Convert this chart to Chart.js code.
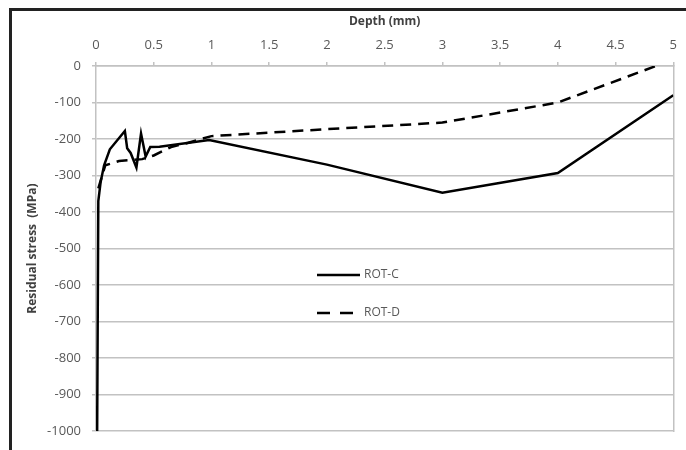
<!DOCTYPE html>
<html>
<head>
<meta charset="utf-8">
<script src="https://cdn.jsdelivr.net/npm/chart.js@4"></script>
<style>
  html, body { margin: 0; padding: 0; background: #fff; }
  #wrap { position: relative; width: 686px; height: 450px; overflow: hidden; }
  #frame { position: absolute; left: 9px; top: 8px; width: 700px; height: 460px;
           border-top: 3px solid #222; border-left: 3px solid #222; }
  canvas { position: absolute; left: 0; top: 0; }
</style>
</head>
<body>
<div id="wrap">
  <div id="frame"></div>
  <canvas id="myChart" width="686" height="450"></canvas>
</div>
<script>
// data
const depthC  = [0.01, 0.02, 0.04, 0.07, 0.12, 0.25, 0.27, 0.30, 0.35, 0.39, 0.43, 0.47, 0.55, 0.98, 2.0, 3.0, 4.0, 5.0];
const stressC = [-1000, -370, -318, -272, -228, -178, -225, -238, -278, -185, -248, -222, -221, -203, -270, -347, -293, -80];

const depthD  = [0.02, 0.08, 0.2, 0.4, 0.5, 0.65, 0.8, 1.0, 2.0, 3.0, 4.0, 4.85];
const stressD = [-335, -272, -260, -255, -245, -222, -210, -192, -173, -155, -100, 0];

const xTicks = [0, 0.5, 1, 1.5, 2, 2.5, 3, 3.5, 4, 4.5, 5];
const yTicks = [0, -100, -200, -300, -400, -500, -600, -700, -800, -900, -1000];

const seriesNames = ['ROT-C', 'ROT-D'];

const gridGray = '#c2c2c2';
const tickGray = '#595959';

function toPoints(xs, ys) {
  return xs.map((x, i) => ({ x: x, y: ys[i] }));
}

// legend drawn inside the plot
const inPlotLegend = {
  id: 'inPlotLegend',
  afterDatasetsDraw(chart) {
    const { ctx, chartArea } = chart;
    chart.data.datasets.forEach((ds, i) => {
      const y = chartArea.top + 209 + i * 38;
      const x0 = chartArea.left + 221;
      ctx.save();
      ctx.strokeStyle = ds.borderColor;
      ctx.lineWidth = ds.borderWidth;
      ctx.setLineDash(i === 0 ? [] : [13, 10]);
      ctx.beginPath();
      ctx.moveTo(x0, y);
      ctx.lineTo(x0 + (i === 0 ? 43 : 36), y);
      ctx.stroke();
      ctx.setLineDash([]);
      ctx.fillStyle = tickGray;
      ctx.font = '12px "Open Sans"';
      ctx.textBaseline = 'middle';
      ctx.fillText(ds.label, x0 + 47, y);
      ctx.restore();
    });
  }
};

const data = {
  datasets: [{
    label: seriesNames[0],
    data: toPoints(depthC, stressC),
    borderColor: '#000',
    borderWidth: 2.5,
    pointRadius: 0,
    tension: 0,
    fill: false
  }, {
    label: seriesNames[1],
    data: toPoints(depthD, stressD),
    borderColor: '#000',
    borderWidth: 2.5,
    borderDash: [11, 7],
    pointRadius: 0,
    tension: 0,
    fill: false
  }]
};

const config = {
  type: 'line',
  data,
  options: {
    responsive: false,
    animation: false,
    layout: { padding: { top: 12, left: 12, right: 10, bottom: 13 } },
    plugins: { legend: { display: false }, tooltip: { enabled: false } },
    scales: {
      x: {
        type: 'linear',
        position: 'top',
        min: 0, max: 5,
        afterBuildTicks: (s) => { s.ticks = xTicks.map(v => ({ value: v })); },
        afterFit: (s) => { s.height = 54; },
        ticks: {
          color: tickGray, padding: 9,
          font: { family: '"Open Sans"', size: 13 },
          callback: (v) => String(v)
        },
        grid: { drawOnChartArea: false, drawTicks: true, tickLength: 4, color: gridGray, lineWidth: 1.5 },
        border: { color: gridGray, width: 1.5 },
        title: {
          display: true, text: 'Depth (mm)', color: '#404040',
          font: { family: '"Open Sans"', size: 12, weight: 'bold' },
          padding: { top: 2, bottom: 0 }
        }
      },
      y: {
        min: -1000, max: 0,
        afterBuildTicks: (s) => { s.ticks = yTicks.map(v => ({ value: v })); },
        afterFit: (s) => { s.width = 84; },
        ticks: {
          color: tickGray, padding: 11,
          font: { family: '"Open Sans"', size: 13 },
          callback: (v) => String(v)
        },
        grid: { color: gridGray, lineWidth: 1.5, tickLength: 4 },
        border: { color: gridGray, width: 1.5 },
        title: {
          display: true, text: 'Residual stress  (MPa)', color: '#404040',
          font: { family: '"Open Sans"', size: 12, weight: 'bold' },
          padding: { top: 13, bottom: 0 }
        }
      },
      y2: {
        position: 'right',
        min: -1000, max: 0,
        afterFit: (s) => { s.width = 0; },
        ticks: { display: false },
        grid: { drawOnChartArea: false, drawTicks: false },
        border: { color: gridGray, width: 1.5 }
      }
    }
  },
  plugins: [inPlotLegend]
};

const myChart = new Chart(document.getElementById('myChart'), config);
</script>
</body>
</html>
